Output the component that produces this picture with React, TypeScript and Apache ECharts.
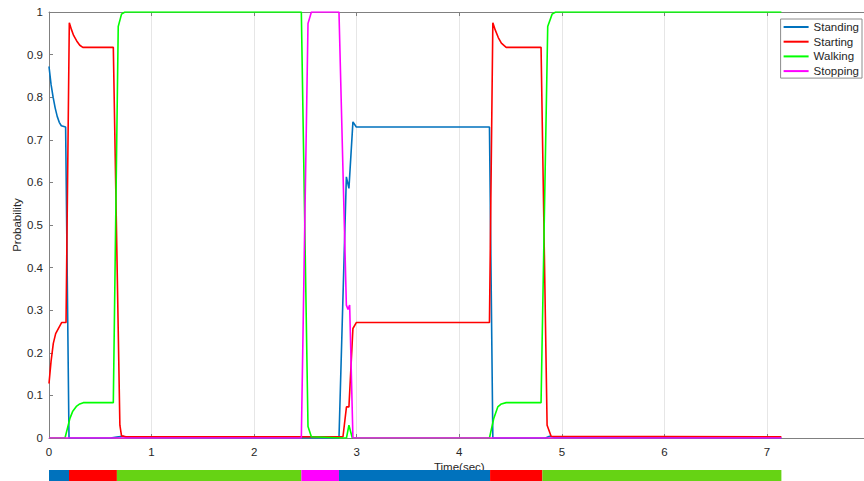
import React, { useEffect, useRef } from "react";
import * as echarts from "echarts";

// ---- data (time in seconds, probability) ----
const seriesNames = ["Standing", "Starting", "Walking", "Stopping"];
const seriesColors = ["#0072BD", "#FF0000", "#00FF00", "#FF00FF"];

const standing: [number, number][] = [
  [0, 0.872], [0.02, 0.83], [0.04, 0.8], [0.06, 0.775], [0.08, 0.755], [0.1, 0.741],
  [0.12, 0.733], [0.162, 0.73], [0.195, 0.0], [0.6, 0], [0.66, 0.002], [0.72, 0.004],
  [0.76, 0.001], [2.827, 0], [2.899, 0.613], [2.924, 0.586], [2.963, 0.742], [2.996, 0.73],
  [4.294, 0.73], [4.327, 0], [4.84, 0], [4.88, 0.004], [4.93, 0.001], [7.14, 0],
];

const starting: [number, number][] = [
  [0, 0.128], [0.02, 0.18], [0.042, 0.222], [0.065, 0.245], [0.091, 0.257], [0.123, 0.271],
  [0.166, 0.271], [0.198, 0.975], [0.22, 0.958], [0.24, 0.945], [0.27, 0.932], [0.3, 0.922],
  [0.33, 0.917], [0.627, 0.917], [0.691, 0.03], [0.707, 0.005], [0.75, 0.003], [2.866, 0.003],
  [2.9, 0.073], [2.924, 0.073], [2.963, 0.257], [2.996, 0.271], [4.294, 0.271], [4.327, 0.975],
  [4.35, 0.958], [4.38, 0.94], [4.41, 0.927], [4.457, 0.917], [4.797, 0.917], [4.856, 0.03],
  [4.895, 0.004], [7.14, 0.003],
];

const walking: [number, number][] = [
  [0, 0], [0.156, 0], [0.204, 0.046], [0.23, 0.062], [0.27, 0.075], [0.3, 0.08], [0.334, 0.083],
  [0.627, 0.083], [0.675, 0.966], [0.707, 0.995], [0.74, 1.0], [2.46, 1.0], [2.525, 0.027],
  [2.558, 0.003], [2.866, 0.0], [2.9, 0.0], [2.924, 0.03], [2.957, 0.0], [4.294, 0],
  [4.335, 0.045], [4.375, 0.073], [4.41, 0.08], [4.457, 0.083], [4.797, 0.083], [4.862, 0.966],
  [4.905, 0.995], [4.94, 1.0], [7.14, 1.0],
];

const stopping: [number, number][] = [
  [0, 0], [2.46, 0], [2.525, 0.973], [2.558, 1.0], [2.827, 1.0], [2.899, 0.312], [2.915, 0.302],
  [2.931, 0.312], [2.963, 0], [7.14, 0],
];

// ground-truth state bar
const segStart = [0, 0.195, 0.662, 2.46, 2.827, 4.3, 4.81];
const segEnd = [0.195, 0.662, 2.46, 2.827, 4.3, 4.81, 7.14];
const segState = [0, 1, 2, 3, 0, 1, 2];
const barColors = ["#0072BD", "#FF0000", "#66D314", "#FF00FF"];

const xTicks = { min: 0, max: 8, interval: 1 };
const yTicks = { min: 0, max: 1, interval: 0.1 };

export default function App() {
  const ref = useRef<HTMLDivElement>(null);
  useEffect(() => {
    if (!ref.current) return;
    const chart = echarts.init(ref.current, null, { renderer: "svg" });
    const font = "'Liberation Sans', Arial, sans-serif";
    const axisCol = "#808080";
    const textCol = "#262626";
    const GL = 49;
    const GW = 820.6;
    const lines = [standing, starting, walking, stopping];
    const segData = segStart.map((s, i) => [s, segEnd[i], segState[i]]);
    chart.setOption({
      animation: false,
      textStyle: { fontFamily: font },
      grid: [
        { left: GL, top: 12, width: GW, height: 426, outerBoundsMode: "none", containLabel: false },
        { left: GL, top: 470, width: GW, height: 14, outerBoundsMode: "none", containLabel: false },
      ],
      legend: {
        data: seriesNames,
        orient: "vertical",
        right: 2,
        top: 19,
        icon: "rect",
        itemWidth: 25,
        itemHeight: 2,
        itemGap: 0.7,
        padding: [1, 3, 0, 3],
        borderColor: "#8c8c8c",
        borderWidth: 1,
        backgroundColor: "#fff",
        textStyle: { fontSize: 11.5, color: textCol, lineHeight: 14, fontFamily: font },
      },
      xAxis: [
        {
          type: "value",
          gridIndex: 0,
          min: xTicks.min,
          max: xTicks.max,
          interval: xTicks.interval,
          name: "Time(sec)",
          nameLocation: "middle",
          nameGap: 23,
          nameMoveOverlap: false,
          nameTextStyle: { fontSize: 11.5, color: textCol, fontFamily: font },
          axisLine: { show: true, onZero: false, lineStyle: { color: axisCol, width: 1 } },
          axisTick: { show: true, inside: true, length: 4, lineStyle: { color: axisCol } },
          axisLabel: { fontSize: 11.5, color: textCol, margin: 8, showMaxLabel: false, fontFamily: font },
          splitLine: { show: true, lineStyle: { color: "#e6e6e6", width: 1 } },
        },
        {
          type: "value",
          gridIndex: 0,
          position: "top",
          min: xTicks.min,
          max: xTicks.max,
          interval: xTicks.interval,
          axisLine: { show: true, onZero: false, lineStyle: { color: axisCol, width: 1 } },
          axisTick: { show: true, inside: true, length: 4, lineStyle: { color: axisCol } },
          axisLabel: { show: false },
          splitLine: { show: false },
        },
        { type: "value", gridIndex: 1, min: xTicks.min, max: xTicks.max, show: false },
      ],
      yAxis: [
        {
          type: "value",
          gridIndex: 0,
          min: yTicks.min,
          max: yTicks.max,
          interval: yTicks.interval,
          name: "Probability",
          nameLocation: "middle",
          nameGap: 26,
          nameMoveOverlap: false,
          nameTextStyle: { fontSize: 11.5, color: textCol, fontFamily: font },
          axisLine: { show: true, lineStyle: { color: axisCol, width: 1 } },
          axisTick: { show: true, inside: true, length: 4, lineStyle: { color: axisCol } },
          axisLabel: { fontSize: 11.5, color: textCol, margin: 6, fontFamily: font },
          splitLine: { show: false },
        },
        { type: "value", gridIndex: 1, min: 0, max: 1, show: false },
      ],
      series: [
        ...lines.map((d, i) => ({
          name: seriesNames[i],
          type: "line",
          xAxisIndex: 0,
          yAxisIndex: 0,
          data: d,
          showSymbol: false,
          symbol: "none",
          color: seriesColors[i],
          lineStyle: { color: seriesColors[i], width: 1.6 },
          z: 2 + i,
        })),
        {
          type: "custom",
          xAxisIndex: 2,
          yAxisIndex: 1,
          data: segData,
          z: 20,
          clip: false,
          renderItem: (params: any, api: any) => {
            const s = api.coord([api.value(0), 0]);
            const e = api.coord([api.value(1), 1]);
            return {
              type: "rect",
              shape: { x: s[0], y: e[1], width: e[0] - s[0], height: s[1] - e[1] },
              style: { fill: barColors[api.value(2)] },
            };
          },
        },
      ],
    });
    return () => chart.dispose();
  }, []);
  return (
    <div
      ref={ref}
      style={{ position: "fixed", left: 0, top: 0, width: 864, height: 481, background: "#fff" }}
    />
  );
}
